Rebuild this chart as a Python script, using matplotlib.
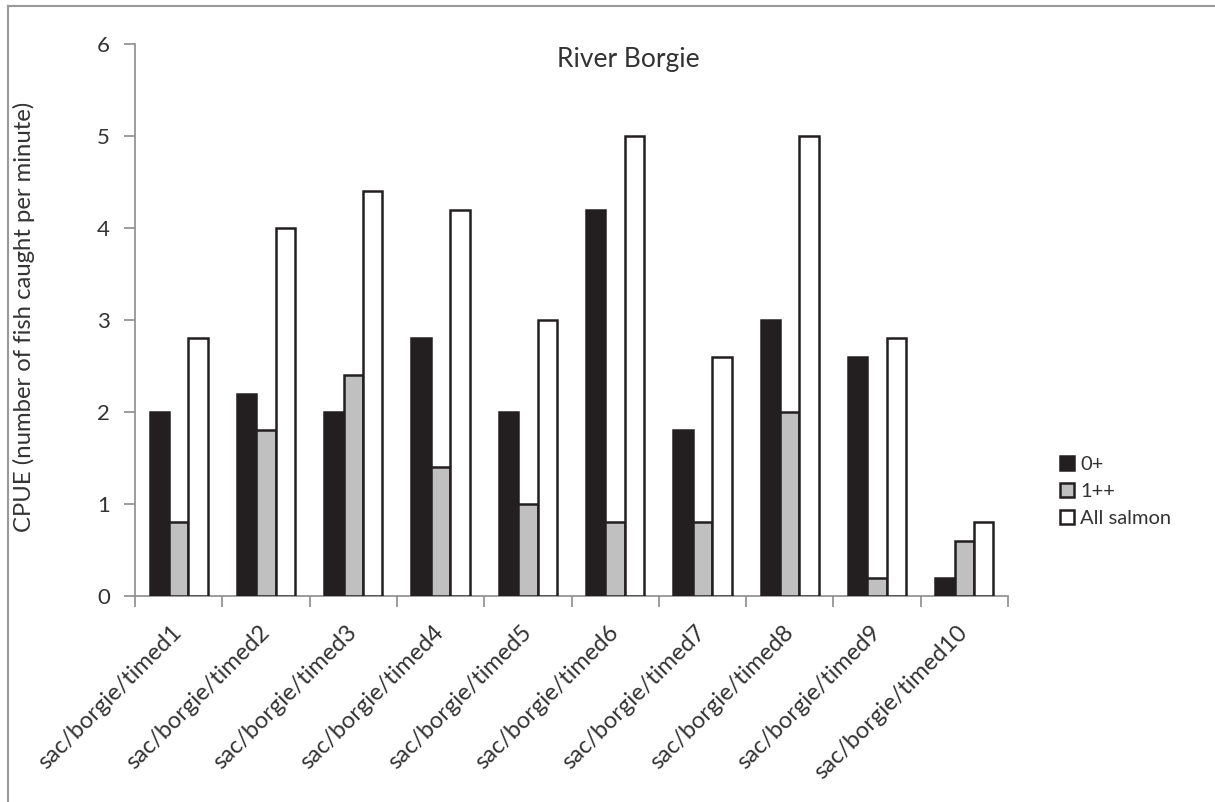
import numpy as np
import matplotlib
matplotlib.use('Agg')
import matplotlib.pyplot as plt
from matplotlib.patches import Patch
from matplotlib.lines import Line2D

sites = [f'sac/borgie/timed{i}' for i in range(1, 11)]
fry = [2.0, 2.2, 2.0, 2.8, 2.0, 4.2, 1.8, 3.0, 2.6, 0.2]      # 0+
parr = [0.8, 1.8, 2.4, 1.4, 1.0, 0.8, 0.8, 2.0, 0.2, 0.6]     # 1++
all_salmon = [2.8, 4.0, 4.4, 4.2, 3.0, 5.0, 2.6, 5.0, 2.8, 0.8]
series_names = ['0+', '1++', 'All salmon']

plt.rcParams['font.family'] = ['Lato', 'DejaVu Sans']
ink = '#231f20'
axis_grey = '#8c8c8c'
txt = '#333333'

fig = plt.figure(figsize=(12.15, 8.02), dpi=100)
ax = fig.add_axes([135/1215, 1-596/802, (1008-135)/1215, (596-44)/802])

x = np.arange(len(sites))
w = 0.222
fills = [ink, '#c0c0c0', 'white']
for k, (vals, col) in enumerate(zip([fry, parr, all_salmon], fills)):
    ax.bar(x + (k-1)*w, vals, width=w, color=col, edgecolor=ink, linewidth=1.8,
           zorder=3)

ax.set_xlim(-0.5, len(sites)-0.5)
ax.set_ylim(0, 6)
ax.set_yticks(range(7))
ax.set_xticks(x)
ax.set_xticks(np.arange(-0.5, len(sites)), minor=True)
ax.set_xticklabels(sites, rotation=45, ha='right', va='center',
                   rotation_mode='anchor', fontsize=17, color=txt)
ax.tick_params(axis='x', which='major', length=0, pad=24)
ax.tick_params(axis='x', which='minor', length=8, color=axis_grey, width=1.2)
ax.tick_params(axis='y', length=8, color=axis_grey, width=1.2, labelsize=16,
               labelcolor=txt, pad=10)
for s in ['top', 'right']:
    ax.spines[s].set_visible(False)
for s in ['left', 'bottom']:
    ax.spines[s].set_color(axis_grey)
    ax.spines[s].set_linewidth(1.2)

ax.set_ylabel('CPUE (number of fish caught per minute)', fontsize=17.2,
              color=txt)
ax.yaxis.set_label_coords(-0.114, 0.505)
ax.text(0.565, 0.995, 'River Borgie', transform=ax.transAxes, ha='center',
        va='top', fontsize=19, color=txt)

handles = [Patch(facecolor=c, edgecolor=ink, linewidth=1.8) for c in fills]
fig.legend(handles, series_names, loc='upper left',
           bbox_to_anchor=(1052/1215, 1-448/802), frameon=False,
           fontsize=14.5, handlelength=0.7, handleheight=0.7,
           handletextpad=0.3, labelspacing=0.5, labelcolor=txt,
           borderaxespad=0)

# outer chart border (left and top visible)
fig.add_artist(Line2D([8/1215, 8/1215], [0, 1-6/802], transform=fig.transFigure,
                      color='#999999', lw=1.5))
fig.add_artist(Line2D([8/1215, 1], [1-6/802, 1-6/802], transform=fig.transFigure,
                      color='#999999', lw=1.5))

fig.savefig('out.png', dpi=100)
